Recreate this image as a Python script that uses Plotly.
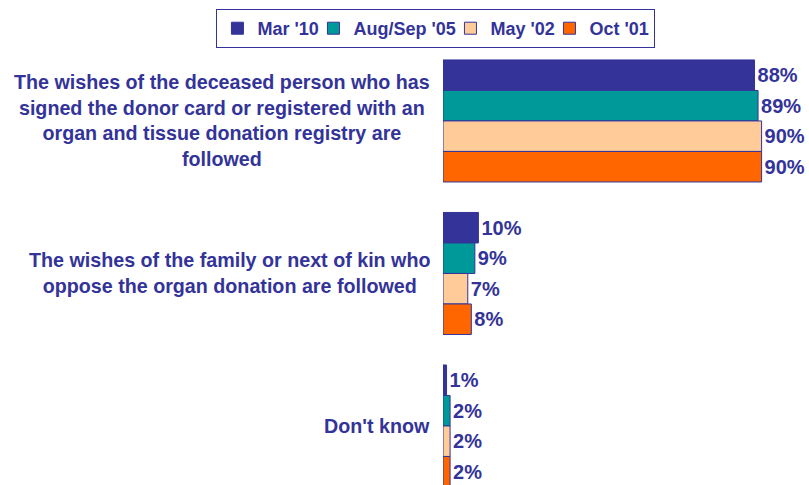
import plotly.graph_objects as go

categories = [
    "The wishes of the deceased person who has<br>signed the donor card or registered with an<br>organ and tissue donation registry are<br>followed",
    "The wishes of the family or next of kin who<br>oppose the organ donation are followed",
    "Don't know",
]
series_names = ["Mar '10", "Aug/Sep '05", "May '02", "Oct '01"]
mar10 = [88, 10, 1]
augsep05 = [89, 9, 2]
may02 = [90, 7, 2]
oct01 = [90, 8, 2]
series_values = [mar10, augsep05, may02, oct01]
colors = ["#333399", "#009999", "#FFCC99", "#FF6600"]
# legend entry widths (px) to keep the legend compact like the original
legend_widths = [51, 92, 54, 60]

TXT = "#333399"
FONT = "Liberation Sans, Arial, sans-serif"

fig = go.Figure()
for name, vals, col, lw in zip(series_names, series_values, colors, legend_widths):
    fig.add_trace(go.Bar(
        y=categories, x=vals, name=name, orientation="h",
        marker=dict(color=col, line=dict(color="#333399", width=1)),
        text=[f"{v}%" for v in vals], textposition="outside",
        textfont=dict(family=FONT, size=20, color=TXT, weight="bold"),
        cliponaxis=False, hoverinfo="skip", legendwidth=lw,
    ))

for cat in categories:
    fig.add_annotation(
        x=0, xref="paper", y=cat, yref="y", text=cat, showarrow=False,
        xanchor="right", yanchor="middle", align="center", xshift=-11,
        font=dict(family=FONT, size=19.7, color=TXT, weight="bold"),
    )

fig.update_layout(
    width=809, height=485,
    margin=dict(l=443, r=12, t=45, b=0, autoexpand=False),
    paper_bgcolor="white", plot_bgcolor="white",
    barmode="group", bargap=0.2, bargroupgap=0,
    showlegend=True,
    legend=dict(
        orientation="h", xref="paper", yref="paper",
        x=-0.64, xanchor="left", y=1.0818, yanchor="top",
        bordercolor="#333399", borderwidth=1, bgcolor="white",
        font=dict(family=FONT, size=18, color=TXT, weight="bold"),
        itemwidth=30, traceorder="normal",
    ),
    xaxis=dict(range=[0, 100], visible=False, fixedrange=True),
    yaxis=dict(range=[2.387, -0.498], showticklabels=False, showgrid=False,
               zeroline=False, showline=False, ticks="", fixedrange=True),
)

fig.write_html("out.html", config={"displayModeBar": False},
               post_script="document.body.style.margin='0';")
